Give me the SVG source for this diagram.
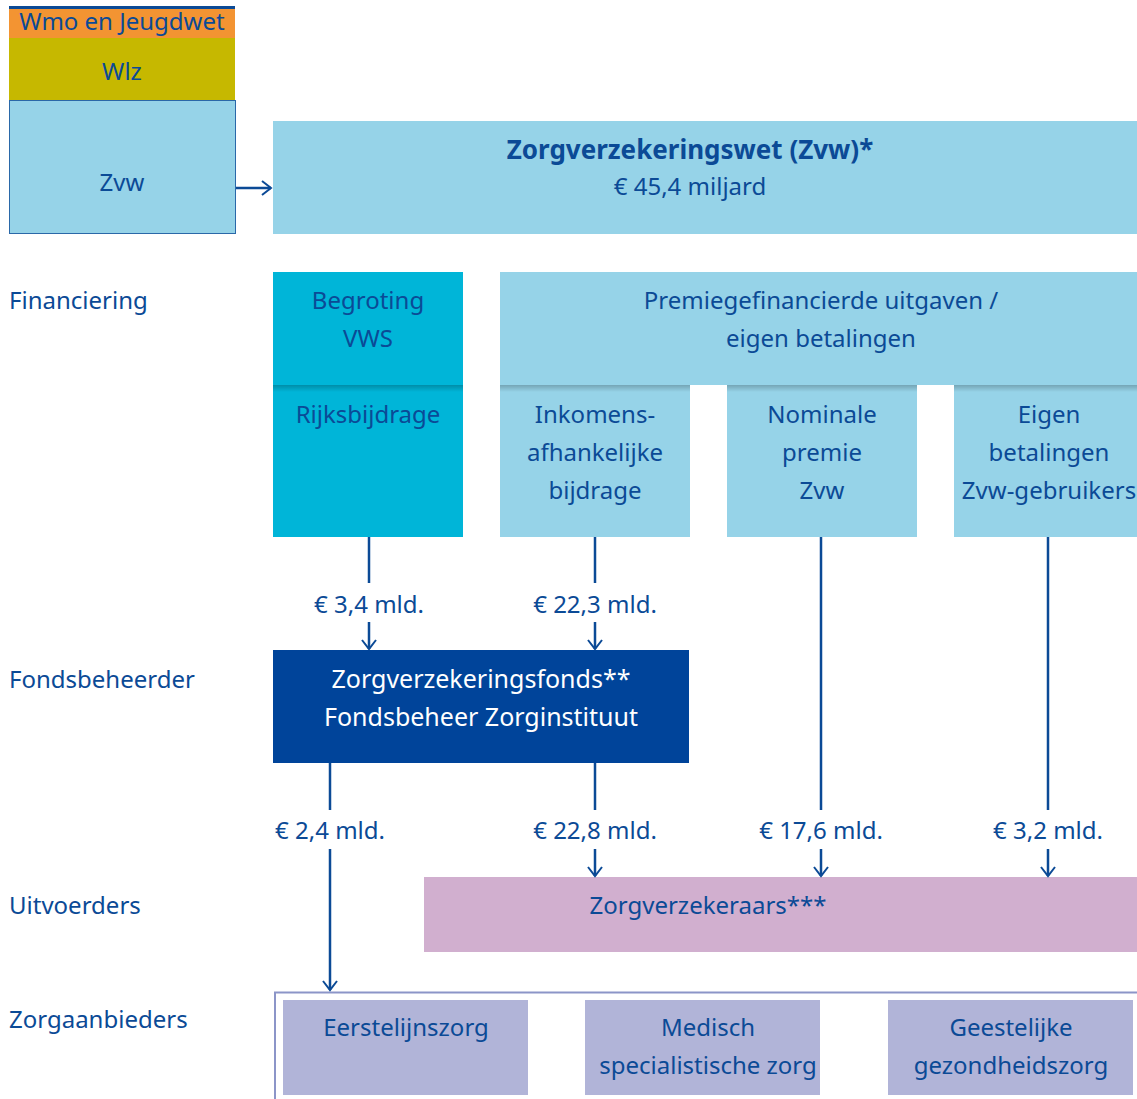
<svg xmlns="http://www.w3.org/2000/svg" width="1137" height="1099" viewBox="0 0 1137 1099">
<style>
text{font-family:"Noto Sans","Open Sans","Liberation Sans",sans-serif;font-size:24px;fill:#0b4a96;text-anchor:middle}
.l{text-anchor:start}
.w{fill:#ffffff;font-size:25px}
.b{font-weight:bold;font-size:26px}
.ln{stroke:#0b4a96;stroke-width:2.5;fill:none}
</style>
<defs>
<marker id="ar" markerWidth="12" markerHeight="16" refX="10" refY="8" markerUnits="userSpaceOnUse" orient="auto" viewBox="0 0 12 16">
<path d="M1,1 L10,8 L1,15" fill="none" stroke="#0b4a96" stroke-width="2"/>
</marker>
<linearGradient id="sh" x1="0" y1="0" x2="0" y2="1">
<stop offset="0" stop-color="#000" stop-opacity="0.22"/>
<stop offset="1" stop-color="#000" stop-opacity="0"/>
</linearGradient>
</defs>
<rect width="1137" height="1099" fill="#ffffff"/>

<g id="legend">
<rect x="9" y="8" width="226" height="30" fill="#f39432"/>
<rect x="9" y="6" width="226" height="3" fill="#0b4a96"/>
<text x="122" y="30" font-size="21">Wmo en Jeugdwet</text>
<rect x="9" y="38" width="226" height="62" fill="#c6b800"/>
<text x="122" y="80">Wlz</text>
<rect x="9.5" y="100.5" width="226" height="133" fill="#96d3e8" stroke="#2a68a8" stroke-width="1"/>
<text x="122" y="191">Zvw</text>
</g>

<g id="labels">
<text class="l" x="9" y="309">Financiering</text>
<text class="l" x="9" y="688">Fondsbeheerder</text>
<text class="l" x="9" y="914">Uitvoerders</text>
<text class="l" x="9" y="1028">Zorgaanbieders</text>
</g>

<g id="zvw-main">
<rect x="273" y="121" width="864" height="113" fill="#96d3e8"/>
<text class="b" x="690" y="159">Zorgverzekeringswet (Zvw)*</text>
<text x="690" y="195">€ 45,4 miljard</text>
</g>

<g id="begroting">
<rect x="273" y="272" width="190" height="265" fill="#00b5d8"/>
<rect x="273" y="385" width="190" height="7" fill="url(#sh)"/>
<text x="368" y="309">Begroting</text>
<text x="368" y="347">VWS</text>
<text x="368" y="423">Rijksbijdrage</text>
</g>

<g id="premie">
<rect x="500" y="272" width="637" height="113" fill="#96d3e8"/>
<text x="821" y="309">Premiegefinancierde uitgaven /</text>
<text x="821" y="347">eigen betalingen</text>
</g>

<g id="inkomens">
<rect x="500" y="385" width="190" height="152" fill="#96d3e8"/>
<rect x="500" y="385" width="190" height="7" fill="url(#sh)"/>
<text x="595" y="423">Inkomens-</text>
<text x="595" y="461">afhankelijke</text>
<text x="595" y="499">bijdrage</text>
</g>

<g id="nominale">
<rect x="727" y="385" width="190" height="152" fill="#96d3e8"/>
<rect x="727" y="385" width="190" height="7" fill="url(#sh)"/>
<text x="822" y="423">Nominale</text>
<text x="822" y="461">premie</text>
<text x="822" y="499">Zvw</text>
</g>

<g id="eigen">
<rect x="954" y="385" width="183" height="152" fill="#96d3e8"/>
<rect x="954" y="385" width="183" height="7" fill="url(#sh)"/>
<text x="1049" y="423">Eigen</text>
<text x="1049" y="461">betalingen</text>
<text x="1049" y="499">Zvw-gebruikers</text>
</g>

<g id="fonds">
<rect x="273" y="650" width="416" height="113" fill="#00449a"/>
<text class="w" x="481" y="688">Zorgverzekeringsfonds**</text>
<text class="w" x="481" y="726">Fondsbeheer Zorginstituut</text>
</g>

<g id="verzekeraars">
<rect x="424" y="877" width="713" height="75" fill="#d1afcf"/>
<text x="708" y="914">Zorgverzekeraars***</text>
</g>

<g id="aanbieders">
<path d="M275,1099 V992.5 H1137" fill="none" stroke="#8c95c8" stroke-width="2"/>
<rect x="283" y="1000" width="245" height="95" fill="#b1b4d8"/>
<text x="406" y="1036">Eerstelijnszorg</text>
<rect x="585" y="1000" width="235" height="95" fill="#b1b4d8"/>
<text x="708" y="1036">Medisch</text>
<text x="708" y="1074">specialistische zorg</text>
<rect x="888" y="1000" width="245" height="95" fill="#b1b4d8"/>
<text x="1011" y="1036">Geestelijke</text>
<text x="1011" y="1074">gezondheidszorg</text>
</g>

<g id="connectors">
<line class="ln" x1="236" y1="188" x2="271" y2="188" marker-end="url(#ar)"/>
<line class="ln" x1="369" y1="537" x2="369" y2="583"/>
<line class="ln" x1="369" y1="622" x2="369" y2="649" marker-end="url(#ar)"/>
<line class="ln" x1="595" y1="537" x2="595" y2="583"/>
<line class="ln" x1="595" y1="622" x2="595" y2="649" marker-end="url(#ar)"/>
<line class="ln" x1="330" y1="763" x2="330" y2="810"/>
<line class="ln" x1="330" y1="849" x2="330" y2="990" marker-end="url(#ar)"/>
<line class="ln" x1="595" y1="763" x2="595" y2="810" stroke-width="1.5"/>
<line class="ln" x1="595" y1="849" x2="595" y2="876" stroke-width="1.5" marker-end="url(#ar)"/>
<line class="ln" x1="821" y1="537" x2="821" y2="810"/>
<line class="ln" x1="821" y1="849" x2="821" y2="876" marker-end="url(#ar)"/>
<line class="ln" x1="1048" y1="537" x2="1048" y2="810"/>
<line class="ln" x1="1048" y1="849" x2="1048" y2="876" marker-end="url(#ar)"/>
<text x="369" y="613">€ 3,4 mld.</text>
<text x="595" y="613">€ 22,3 mld.</text>
<text x="330" y="839">€ 2,4 mld.</text>
<text x="595" y="839">€ 22,8 mld.</text>
<text x="821" y="839">€ 17,6 mld.</text>
<text x="1048" y="839">€ 3,2 mld.</text>
</g>
</svg>
